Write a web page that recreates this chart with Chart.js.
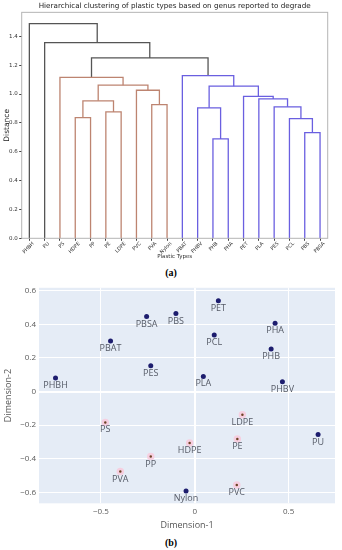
<!DOCTYPE html>
<html><head><meta charset="utf-8">
<script src="https://cdn.jsdelivr.net/npm/chart.js@4.4.0/dist/chart.umd.min.js"></script>
<style>
html,body{margin:0;padding:0;background:#fff;width:342px;height:550px;overflow:hidden;position:relative;}
#c1{position:absolute;left:0;top:0;}
#c2{position:absolute;left:0;top:280px;}
.cap{position:absolute;left:0;width:342px;text-align:center;font:bold 10px "Liberation Serif",serif;color:#000;}
</style></head><body>
<canvas id="c1" width="342" height="265"></canvas>
<div class="cap" style="top:267px">(a)</div>
<canvas id="c2" width="342" height="255"></canvas>
<div class="cap" style="top:537px">(b)</div>
<script>
// ---------- Dendrogram data ----------
const leafLabels = ['PHBH','PU','PS','HDPE','PP','PE','LDPE','PVC','PVA','Nylon','PBAT','PHBV','PHB','PHA','PET','PLA','PES','PCL','PBS','PBSA'];
// merges: node id = 20 + merge index
const mergeLeft   = [12, 18, 17, 3, 5, 11, 16, 8, 23, 15, 14, 7, 25, 28, 2, 10, 34, 1, 0];
const mergeRight  = [13, 19, 21, 4, 6, 20, 22, 9, 24, 26, 29, 27, 30, 31, 33, 32, 35, 36, 37];
const mergeHeight = [0.689, 0.733, 0.830, 0.836, 0.876, 0.904, 0.911, 0.926, 0.953, 0.966, 0.983, 1.026, 1.054, 1.061, 1.115, 1.127, 1.250, 1.356, 1.488];
const mergeCluster= ['b','b','b','r','r','b','b','r','r','b','b','r','b','r','r','b','k','k','k'];
const distanceTicks = [0.0, 0.2, 0.4, 0.6, 0.8, 1.0, 1.2, 1.4];

// ---------- MDS scatter data ----------
const polyLabels = ['PHBH','PBAT','PBSA','PBS','PES','PET','PCL','PLA','PHA','PHB','PHBV','PS','LDPE','PU','PE','HDPE','PP','PVA','PVC','Nylon'];
const dim1 = [-0.741,-0.448,-0.256,-0.100,-0.234,0.126,0.104,0.046,0.428,0.407,0.467,-0.476,0.254,0.657,0.227,-0.027,-0.234,-0.396,0.224,-0.046];
const dim2 = [0.080,0.301,0.447,0.465,0.154,0.541,0.337,0.090,0.407,0.253,0.058,-0.184,-0.138,-0.256,-0.283,-0.307,-0.387,-0.477,-0.557,-0.593];
const polyGroup = ['b','b','b','b','b','b','b','b','b','b','b','r','r','b','r','r','r','r','r','b'];
const dim1Ticks = [-0.5, 0, 0.5];
const dim2Ticks = [-0.6, -0.4, -0.2, 0, 0.2, 0.4, 0.6];

// ---------- styles ----------
const linkColors = {b:'#6a5fe0', r:'#bd8470', k:'#555555'};
const pointColors = {b:'#1d1d6e', r:'#6e4225'};
const haloColors = {b:'rgba(0,0,0,0)', r:'#f6cfe0'};

// ---- build dendrogram link polylines (scipy style) ----
const nodeX = leafLabels.map((_, i) => 5 + 10 * i);
const nodeY = leafLabels.map(() => 0);
const linkDatasets = [];
mergeLeft.forEach((a, k) => {
  const b = mergeRight[k], h = mergeHeight[k];
  const xa = nodeX[a], xb = nodeX[b];
  linkDatasets.push({
    data: [{x: xa, y: nodeY[a]}, {x: xa, y: h}, {x: xb, y: h}, {x: xb, y: nodeY[b]}],
    borderColor: linkColors[mergeCluster[k]],
    borderWidth: 1.3,
    showLine: true, pointRadius: 0, fill: false, tension: 0
  });
  nodeX.push((xa + xb) / 2);
  nodeY.push(h);
});

const framePlugin = {
  id: 'frame',
  afterDraw(chart) {
    const {ctx, chartArea: a} = chart;
    ctx.save();
    ctx.strokeStyle = '#b5b5b5';
    ctx.lineWidth = 1;
    ctx.strokeRect(a.left, a.top, a.right - a.left, a.bottom - a.top);
    ctx.restore();
  }
};

new Chart(document.getElementById('c1'), {
  type: 'scatter',
  data: {datasets: linkDatasets},
  plugins: [framePlugin],
  options: {
    responsive: false, animation: false,
    layout: {padding: {left: 0, right: 14.3, top: 0, bottom: 0}},
    plugins: {
      legend: {display: false}, tooltip: {enabled: false},
      title: {display: true, fullSize: false, text: 'Hierarchical clustering of plastic types based on genus reported to degrade',
        color: '#222', font: {family: 'DejaVu Sans', size: 7.2, weight: 'normal'}, padding: {top: 1.8, bottom: 1.9}}
    },
    scales: {
      x: {
        type: 'linear', min: 0, max: 200,
        afterFit(s) { s.height = 26.7; },
        afterBuildTicks(s) { s.ticks = leafLabels.map((_, i) => ({value: 5 + 10 * i})); },
        grid: {drawOnChartArea: false, drawTicks: true, tickLength: 2.5, color: '#444'},
        border: {display: false},
        ticks: {autoSkip: false, minRotation: 45, maxRotation: 45, padding: 0, labelOffset: 4,
          color: '#333', font: {family: 'DejaVu Sans', size: 5},
          callback: (v, i) => leafLabels[i]},
        title: {display: true, text: 'Plastic Types', color: '#333', font: {family: 'DejaVu Sans', size: 5.5}, padding: {top: 0, bottom: 4.7}}
      },
      y: {
        type: 'linear', min: 0, max: 1.566,
        afterFit(s) { s.width = 21.7; },
        afterBuildTicks(s) { s.ticks = distanceTicks.map(v => ({value: v})); },
        grid: {drawOnChartArea: false, drawTicks: true, tickLength: 2.5, color: '#444'},
        border: {display: false},
        ticks: {padding: 1.5, color: '#333', font: {family: 'DejaVu Sans', size: 5.5}, callback: v => v.toFixed(1)},
        title: {display: true, text: 'Distance', color: '#222', font: {family: 'DejaVu Sans', size: 7.5}, padding: {top: 2.5, bottom: 0}}
      }
    }
  }
});

// ---------- scatter ----------
const bgPlugin = {
  id: 'bg',
  beforeDraw(chart) {
    const {ctx, chartArea: a} = chart;
    ctx.save();
    ctx.fillStyle = '#e5ecf6';
    ctx.fillRect(a.left, a.top, a.right - a.left, a.bottom - a.top);
    ctx.restore();
  }
};
const labelPlugin = {
  id: 'ptlabels',
  afterDatasetsDraw(chart) {
    const {ctx} = chart;
    const meta = chart.getDatasetMeta(0);
    ctx.save();
    ctx.fillStyle = '#555a66';
    ctx.font = '9px "Open Sans"';
    ctx.textAlign = 'center';
    ctx.textBaseline = 'middle';
    meta.data.forEach((p, i) => ctx.fillText(polyLabels[i], p.x, p.y + 7.5));
    ctx.restore();
  }
};
const fmt = v => v === 0 ? '0' : (v < 0 ? '\u2212' + Math.abs(v) : String(v));

new Chart(document.getElementById('c2'), {
  type: 'scatter',
  data: {datasets: [{
    data: dim1.map((x, i) => ({x: x, y: dim2[i]})),
    pointRadius: 2.5,
    pointBackgroundColor: polyGroup.map(g => pointColors[g]),
    pointBorderColor: polyGroup.map(g => haloColors[g]),
    pointBorderWidth: polyGroup.map(g => g === 'r' ? 2.5 : 0)
  }]},
  plugins: [bgPlugin, labelPlugin],
  options: {
    responsive: false, animation: false,
    layout: {padding: {left: 0, right: 7, top: 7.7, bottom: 0}},
    plugins: {legend: {display: false}, tooltip: {enabled: false}},
    scales: {
      x: {
        type: 'linear', min: -0.829, max: 0.747,
        afterFit(s) { s.height = 31.7; },
        afterBuildTicks(s) { s.ticks = dim1Ticks.map(v => ({value: v})); },
        grid: {color: '#ffffff', lineWidth: c => c.tick && c.tick.value === 0 ? 2 : 1, drawTicks: false},
        border: {display: false},
        ticks: {padding: 4, color: '#5a5a5a', font: {family: 'Open Sans', size: 8}, callback: fmt},
        title: {display: true, text: 'Dimension-1', color: '#555', font: {family: 'Open Sans', size: 9}, padding: {top: 0, bottom: 4.6}}
      },
      y: {
        type: 'linear', min: -0.666, max: 0.618,
        afterFit(s) { s.width = 39; },
        afterBuildTicks(s) { s.ticks = dim2Ticks.map(v => ({value: v})); },
        grid: {color: '#ffffff', lineWidth: c => c.tick && c.tick.value === 0 ? 2 : 1, drawTicks: false},
        border: {display: false},
        ticks: {padding: 3, color: '#5a5a5a', font: {family: 'Open Sans', size: 8}, callback: fmt},
        title: {display: true, text: 'Dimension-2', color: '#555', font: {family: 'Open Sans', size: 9}, padding: {top: 3.1, bottom: 0}}
      }
    }
  }
});
</script>
</body></html>
